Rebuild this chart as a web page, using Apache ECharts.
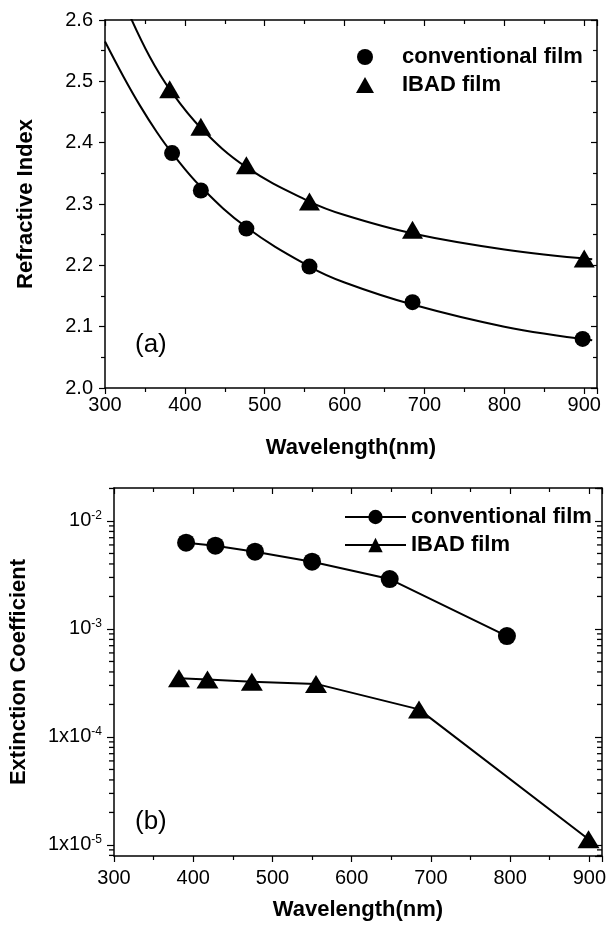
<!DOCTYPE html>
<html>
<head>
<meta charset="utf-8">
<script src="https://cdn.jsdelivr.net/npm/echarts@6/dist/echarts.min.js"></script>
<style>
  html, body { margin: 0; background: #fff; }
  #chart { width: 614px; height: 927px; }
</style>
</head>
<body>
<div id="chart"></div>
<script>
// (a) refractive index, measured points
const nConvX = [384, 420, 477, 556, 685, 898]
const nConv = [2.383, 2.322, 2.26, 2.198, 2.14, 2.08]
const nIbadX = [381, 420, 477, 556, 685, 900]
const nIbad = [2.487, 2.426, 2.363, 2.304, 2.258, 2.211]
// fitted curves
const fitConvX = [300, 323, 344, 365, 384, 420, 477, 556, 600, 685, 800, 910]
const fitConv = [2.565, 2.508, 2.46, 2.417, 2.383, 2.328, 2.262, 2.198, 2.172, 2.136, 2.1, 2.078]
const fitIbadX = [330, 356, 381, 420, 477, 556, 600, 685, 800, 910]
const fitIbad = [2.61, 2.54, 2.487, 2.424, 2.36, 2.304, 2.282, 2.252, 2.226, 2.21]

// (b) extinction coefficient
const kConvX = [391, 428, 478, 550, 648, 796]
const kConv = [6.3e-3, 5.9e-3, 5.2e-3, 4.2e-3, 2.9e-3, 8.6e-4]
const kIbadX = [382, 418, 474, 555, 685, 899]
const kIbad = [3.5e-4, 3.4e-4, 3.25e-4, 3.1e-4, 1.8e-4, 1.13e-5]

// log axis tick labels
const logTickValues = [1e-5, 1e-4, 1e-3, 1e-2]
const logTickBase = ['1x10', '1x10', '10', '10']
const logTickExp = ['-5', '-4', '-3', '-2']
const logDecades = [1e-6, 1e-5, 1e-4, 1e-3, 1e-2]
const logMinorSteps = [2, 3, 4, 5, 6, 7, 8, 9]

const legendNames = ['conventional film', 'IBAD film']

const FONT = 'Liberation Sans'
const pairs = (xs, ys) => xs.map((x, i) => [x, ys[i]])

const xMin = 300
const xMax = 916
const kMin = 7.9e-6
const kMax = 0.0202
// minor ticks of the log axis (2..9 of every decade)
const logMinor = []
logDecades.forEach(d => logMinorSteps.forEach(m => {
  const v = d * m
  if (v > kMin && v < kMax) logMinor.push(v)
}))

const line = { lineStyle: { color: '#000', width: 1.5 } }
const tickStyle = { color: '#000', width: 1.2 }
const labelBase = { color: '#000', fontSize: 20, fontFamily: FONT }
const nameStyle = { color: '#000', fontSize: 22, fontWeight: 'bold', fontFamily: FONT }
const legendText = { color: '#000', fontSize: 22, fontWeight: 'bold', fontFamily: FONT, lineHeight: 22 }

function xAxisOf(grid, top, gap, margin) {
  return {
    type: 'value', gridIndex: grid, position: top ? 'top' : 'bottom',
    min: xMin, max: xMax, interval: 100,
    axisLine: { show: true, onZero: false, ...line },
    axisTick: { show: true, inside: top, length: 6, lineStyle: tickStyle },
    minorTick: { show: true, splitNumber: 2, length: 4, lineStyle: tickStyle },
    axisLabel: top ? { show: false } : { ...labelBase, margin: margin, showMaxLabel: false },
    splitLine: { show: false },
    name: top ? '' : 'Wavelength(nm)',
    nameLocation: 'middle', nameGap: gap, nameTextStyle: nameStyle
  }
}

function minorTickSeries(x) {
  return {
    type: 'scatter', xAxisIndex: 2, yAxisIndex: 2, silent: true, clip: false,
    data: logMinor.map(v => [x, v]),
    symbol: 'rect', symbolSize: [5, 1.3], symbolOffset: [-2.5, 0],
    itemStyle: { color: '#000', opacity: 1 }
  }
}

const chart = echarts.init(document.getElementById('chart'))
chart.setOption({
  animation: false,
  backgroundColor: '#fff',
  grid: [
    { left: 105, top: 20, width: 492, height: 368 },
    { left: 110, top: 488, width: 492, height: 368 }
  ],
  xAxis: [
    xAxisOf(0, false, 49, 7),
    xAxisOf(0, true),
    xAxisOf(1, false, 43, 12),
    xAxisOf(1, true)
  ],
  yAxis: [
    {
      type: 'value', gridIndex: 0, position: 'left', min: 2.0, max: 2.6, interval: 0.1,
      axisLine: { show: true, onZero: false, ...line },
      axisTick: { show: true, length: 6, lineStyle: tickStyle },
      minorTick: { show: true, splitNumber: 2, length: 4, lineStyle: tickStyle },
      axisLabel: { ...labelBase, margin: 12, formatter: v => v.toFixed(1) },
      splitLine: { show: false },
      name: 'Refractive Index', nameLocation: 'middle', nameGap: 68, nameTextStyle: nameStyle
    },
    {
      type: 'value', gridIndex: 0, position: 'right', min: 2.0, max: 2.6, interval: 0.1,
      axisLine: { show: true, onZero: false, ...line },
      axisTick: { show: true, inside: true, length: 6, lineStyle: tickStyle },
      minorTick: { show: true, splitNumber: 2, length: 4, lineStyle: tickStyle },
      axisLabel: { show: false },
      splitLine: { show: false }
    },
    {
      type: 'log', logBase: 10, gridIndex: 1, position: 'left', min: kMin, max: kMax,
      axisLine: { show: true, onZero: false, ...line },
      axisTick: { show: true, length: 7, lineStyle: tickStyle },
      axisLabel: {
        ...labelBase, margin: 12, showMinLabel: false, showMaxLabel: false,
        formatter: v => {
          const e = Math.round(Math.log10(v))
          const i = logTickValues.findIndex(t => Math.round(Math.log10(t)) === e)
          if (i < 0) return ''
          return '{b|' + logTickBase[i] + '}{s|' + logTickExp[i] + '}'
        },
        rich: {
          b: { ...labelBase, lineHeight: 22 },
          s: { color: '#000', fontSize: 12, fontFamily: FONT, verticalAlign: 'top', lineHeight: 12 }
        }
      },
      splitLine: { show: false },
      name: 'Extinction Coefficient', nameLocation: 'middle', nameGap: 84, nameTextStyle: nameStyle
    },
    {
      type: 'log', logBase: 10, gridIndex: 1, position: 'right', min: kMin, max: kMax,
      axisLine: { show: true, onZero: false, ...line },
      axisTick: { show: true, inside: true, length: 7, lineStyle: tickStyle },
      axisLabel: { show: false },
      splitLine: { show: false }
    }
  ],
  legend: [
    {
      orient: 'vertical', left: 351, top: 41, itemWidth: 18, itemHeight: 16, itemGap: 6,
      selectedMode: false,
      data: ['a-' + legendNames[0], 'a-' + legendNames[1]],
      formatter: n => n.slice(2),
      textStyle: { ...legendText, padding: [0, 0, 0, 23] }
    },
    {
      orient: 'vertical', left: 339, top: 501, itemWidth: 61, itemHeight: 18, itemGap: 6,
      selectedMode: false,
      data: ['b-' + legendNames[0], 'b-' + legendNames[1]],
      formatter: n => n.slice(2),
      textStyle: legendText
    }
  ],
  graphic: [
    { type: 'text', left: 135, top: 332, style: { text: '(a)', fontSize: 26, fontFamily: FONT, fill: '#000' } },
    { type: 'text', left: 135, top: 809, style: { text: '(b)', fontSize: 26, fontFamily: FONT, fill: '#000' } }
  ],
  series: [
    {
      type: 'line', xAxisIndex: 0, yAxisIndex: 0, data: pairs(fitConvX, fitConv),
      smooth: 0.4, showSymbol: false, lineStyle: { color: '#000', width: 2 }, silent: true
    },
    {
      type: 'line', xAxisIndex: 0, yAxisIndex: 0, data: pairs(fitIbadX, fitIbad),
      smooth: 0.4, showSymbol: false, lineStyle: { color: '#000', width: 2 }, silent: true
    },
    {
      name: 'a-' + legendNames[0], type: 'scatter', xAxisIndex: 0, yAxisIndex: 0,
      data: pairs(nConvX, nConv), symbol: 'circle', symbolSize: 16,
      itemStyle: { color: '#000', opacity: 1 }
    },
    {
      name: 'a-' + legendNames[1], type: 'scatter', xAxisIndex: 0, yAxisIndex: 0,
      data: pairs(nIbadX, nIbad), symbol: 'triangle', symbolSize: [21, 18],
      itemStyle: { color: '#000', opacity: 1 }
    },
    {
      name: 'b-' + legendNames[0], type: 'line', xAxisIndex: 2, yAxisIndex: 2,
      data: pairs(kConvX, kConv), symbol: 'circle', symbolSize: 18, showAllSymbol: true,
      itemStyle: { color: '#000' }, lineStyle: { color: '#000', width: 2 }
    },
    {
      name: 'b-' + legendNames[1], type: 'line', xAxisIndex: 2, yAxisIndex: 2,
      data: pairs(kIbadX, kIbad), symbol: 'triangle', symbolSize: [22, 18], showAllSymbol: true,
      itemStyle: { color: '#000' }, lineStyle: { color: '#000', width: 2 }
    },
    // log minor ticks: outward on the left frame, inward on the right frame
    minorTickSeries(xMin),
    minorTickSeries(xMax)
  ]
})
</script>
</body>
</html>
